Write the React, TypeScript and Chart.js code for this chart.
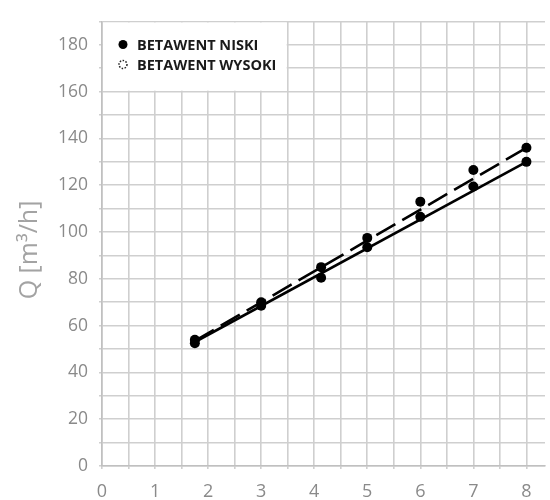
import React, { useEffect, useRef } from "react";
import { Chart, registerables } from "chart.js";

Chart.register(...registerables);

const NISKI_LABEL = "BETAWENT NISKI";
const WYSOKI_LABEL = "BETAWENT WYSOKI";
const X_VALUES = [1.75, 3, 4.13, 5, 6, 7, 8];
const NISKI_Q = [52.5, 68.5, 80.5, 93.5, 106.5, 119.5, 130];
const WYSOKI_Q = [54, 70, 85, 97.5, 113, 126.5, 136];
const TREND_X = [1.75, 8];
const NISKI_TREND = [53, 130];
const WYSOKI_TREND = [53.5, 136];
const X_GRID = [0, 0.5, 1, 1.5, 2, 2.5, 3, 3.5, 4, 4.5, 5, 5.5, 6, 6.5, 7, 7.5, 8];
const Y_GRID = [0, 10, 20, 30, 40, 50, 60, 70, 80, 90, 100, 110, 120, 130, 140, 150, 160, 170, 180, 190];
const X_LABELED = [0, 1, 2, 3, 4, 5, 6, 7, 8];
const Y_LABELED = [0, 20, 40, 60, 80, 100, 120, 140, 160, 180];
const Y_TITLE = "Q [m³/h]";

const FONT = "'Open Sans', 'DejaVu Sans', sans-serif";

const decorPlugin = {
  id: "decor",
  afterDatasetsDraw(chart: any) {
    const ctx = chart.ctx;
    const xs = chart.scales.x;
    const ys = chart.scales.y;
    const l = xs.getPixelForValue(0);
    const r = xs.getPixelForValue(3.5);
    const t = ys.getPixelForValue(190);
    const b = ys.getPixelForValue(160);
    ctx.save();
    ctx.fillStyle = "#ffffff";
    ctx.fillRect(l + 1, t + 1, r - l - 2, b - t - 2);
    const items = [chart.data.datasets[0].label, chart.data.datasets[1].label];
    ctx.font = `700 14.5px ${FONT}`;
    ctx.textBaseline = "middle";
    ctx.textAlign = "left";
    const rows = [t + 23, t + 43];
    items.forEach((label: string, i: number) => {
      const cy = rows[i];
      const cx = l + 21;
      if (i === 0) {
        ctx.beginPath();
        ctx.arc(cx, cy, 4.5, 0, Math.PI * 2);
        ctx.fillStyle = "#000";
        ctx.fill();
      } else {
        ctx.beginPath();
        ctx.setLineDash([1.5, 1.5]);
        ctx.lineWidth = 1.5;
        ctx.strokeStyle = "#222";
        ctx.arc(cx, cy, 4, 0, Math.PI * 2);
        ctx.stroke();
        ctx.setLineDash([]);
      }
      ctx.fillStyle = "#1a1a1a";
      ctx.fillText(label, l + 35, cy + 1);
    });
    ctx.translate(30, 250);
    ctx.rotate(-Math.PI / 2);
    ctx.textAlign = "center";
    ctx.textBaseline = "middle";
    ctx.font = `400 25px ${FONT}`;
    ctx.fillStyle = "#a3a3a3";
    ctx.fillText(Y_TITLE, 0, 0);
    ctx.restore();
  },
};

export default function App() {
  const ref = useRef<HTMLCanvasElement | null>(null);
  useEffect(() => {
    if (!ref.current) return;
    const pointStyle = {
      showLine: false,
      backgroundColor: "#000",
      borderColor: "#000",
      pointRadius: 5,
      pointBorderWidth: 0,
    };
    const lineStyle = {
      showLine: true,
      borderColor: "#000",
      backgroundColor: "#000",
      borderWidth: 2.6,
      pointRadius: 0,
    };
    const chart = new Chart(ref.current, {
      type: "scatter",
      data: {
        datasets: [
          { label: NISKI_LABEL, data: X_VALUES.map((x, i) => ({ x, y: NISKI_Q[i] })), ...pointStyle },
          { label: WYSOKI_LABEL, data: X_VALUES.map((x, i) => ({ x, y: WYSOKI_Q[i] })), ...pointStyle },
          { label: NISKI_LABEL + " trend", data: TREND_X.map((x, i) => ({ x, y: NISKI_TREND[i] })), ...lineStyle },
          {
            label: WYSOKI_LABEL + " trend",
            data: TREND_X.map((x, i) => ({ x, y: WYSOKI_TREND[i] })),
            ...lineStyle,
            borderDash: [22, 8],
          },
        ],
      },
      options: {
        animation: false,
        responsive: false,
        devicePixelRatio: 1,
        layout: { padding: { top: 12, right: 0, left: 0, bottom: 0 } },
        plugins: {
          legend: { display: false },
          tooltip: { enabled: false },
        },
        scales: {
          x: {
            type: "linear",
            min: 0,
            max: 8.35,
            afterBuildTicks: (s: any) => {
              s.ticks = X_GRID.map((v) => ({ value: v }));
            },
            afterFit: (s: any) => {
              s.height = 34;
            },
            ticks: {
              autoSkip: false,
              maxRotation: 0,
              padding: 12,
              color: "#8a8a8a",
              font: { family: FONT, size: 18 },
              callback: (v: any) => (X_LABELED.includes(Number(v)) ? String(v) : ""),
            },
            grid: { color: "#cfcfcf", lineWidth: 1.6, tickLength: 3 },
            border: { color: "#c0c0c0", width: 1.6 },
          },
          y: {
            type: "linear",
            min: 0,
            max: 190,
            afterBuildTicks: (s: any) => {
              s.ticks = Y_GRID.map((v) => ({ value: v }));
            },
            afterFit: (s: any) => {
              s.width = 102;
            },
            ticks: {
              autoSkip: false,
              padding: 11,
              color: "#8a8a8a",
              font: { family: FONT, size: 17.5 },
              callback: (v: any) => (Y_LABELED.includes(Number(v)) ? String(v) : ""),
            },
            grid: { color: "#cfcfcf", lineWidth: 1.6, tickLength: 3 },
            border: { color: "#c0c0c0", width: 1.6 },
          },
        },
      },
      plugins: [decorPlugin],
    } as any);
    return () => chart.destroy();
  }, []);
  return (
    <div style={{ position: "absolute", left: 0, top: 0, width: 550, height: 500, background: "#fff" }}>
      <canvas ref={ref} width={550} height={500} />
    </div>
  );
}
